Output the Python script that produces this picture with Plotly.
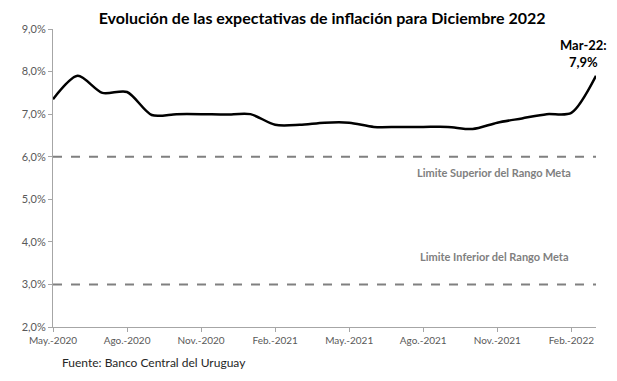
import plotly.graph_objects as go

months = ["May.-2020", "Jun.-2020", "Jul.-2020", "Ago.-2020", "Sep.-2020", "Oct.-2020",
          "Nov.-2020", "Dic.-2020", "Ene.-2021", "Feb.-2021", "Mar.-2021", "Abr.-2021",
          "May.-2021", "Jun.-2021", "Jul.-2021", "Ago.-2021", "Sep.-2021", "Oct.-2021",
          "Nov.-2021", "Dic.-2021", "Ene.-2022", "Feb.-2022", "Mar.-2022"]
expectativa = [7.35, 7.90, 7.50, 7.52, 6.98, 7.00, 7.00, 6.99, 7.00, 6.75, 6.75, 6.80,
               6.80, 6.70, 6.70, 6.70, 6.70, 6.65, 6.80, 6.90, 7.00, 7.03, 7.90]
limite_superior = [6.0] * len(months)
limite_inferior = [3.0] * len(months)
tick_months = ["May.-2020", "Ago.-2020", "Nov.-2020", "Feb.-2021", "May.-2021",
               "Ago.-2021", "Nov.-2021", "Feb.-2022"]
y_ticks = [2, 3, 4, 5, 6, 7, 8, 9]
y_tick_text = ["2,0%", "3,0%", "4,0%", "5,0%", "6,0%", "7,0%", "8,0%", "9,0%"]

FONT = "Lato"
GREY = "#808080"
TXT = "#595959"

fig = go.Figure()
fig.add_trace(go.Scatter(x=months, y=limite_superior, mode="lines",
                         line=dict(color=GREY, width=2, dash="dash"), hoverinfo="skip"))
fig.add_trace(go.Scatter(x=months, y=limite_inferior, mode="lines",
                         line=dict(color=GREY, width=2, dash="dash"), hoverinfo="skip"))
fig.add_trace(go.Scatter(x=months, y=expectativa, mode="lines",
                         line=dict(color="black", width=2.5, shape="spline", smoothing=0.8)))

fig.add_annotation(x=months[18], y=limite_superior[0], yshift=-16, xshift=-3,
                   text="<b>Limite Superior del Rango Meta</b>",
                   showarrow=False, font=dict(family=FONT, size=11, color=GREY))
fig.add_annotation(x=months[18], y=limite_inferior[0], yshift=28, xshift=-3,
                   text="<b>Limite Inferior del Rango Meta</b>",
                   showarrow=False, font=dict(family=FONT, size=11, color=GREY))
fig.add_annotation(x=months[-1], y=expectativa[-1], xshift=-13, yshift=22,
                   text="<b>Mar-22:<br>7,9%</b>", showarrow=False, align="center",
                   font=dict(family=FONT, size=13, color="black"))
fig.add_annotation(xref="paper", yref="paper", x=0.012, y=-0.118, xanchor="left", yanchor="middle",
                   text="Fuente: Banco Central del Uruguay", showarrow=False,
                   font=dict(family=FONT, size=12, color="#262626"))

fig.update_layout(
    width=617, height=381,
    margin=dict(l=53, r=21, t=29, b=54),
    paper_bgcolor="white", plot_bgcolor="white",
    showlegend=False,
    title=dict(text="<b>Evolución de las expectativas de inflación para Diciembre 2022</b>",
               x=0.522, xanchor="center", y=0.953, yanchor="middle",
               font=dict(family=FONT, size=16, color="black")),
    xaxis=dict(type="category", categoryorder="array", categoryarray=months,
               range=[0, len(months) - 1], tickmode="array", tickvals=tick_months,
               ticktext=tick_months, showline=True, linecolor="#a6a6a6", linewidth=1,
               ticks="outside", ticklen=4, tickcolor="#a6a6a6", showgrid=False,
               tickfont=dict(family=FONT, size=10, color=TXT), zeroline=False),
    yaxis=dict(range=[2, 9], tickmode="array", tickvals=y_ticks, ticktext=y_tick_text,
               showline=True, linecolor="#a6a6a6", linewidth=1, ticks="outside", ticklen=4,
               tickcolor="#a6a6a6", showgrid=False, zeroline=False,
               tickfont=dict(family=FONT, size=11, color=TXT)),
)

fig.write_html("out.html", config={"displayModeBar": False},
               post_script="document.body.style.margin='0';")
